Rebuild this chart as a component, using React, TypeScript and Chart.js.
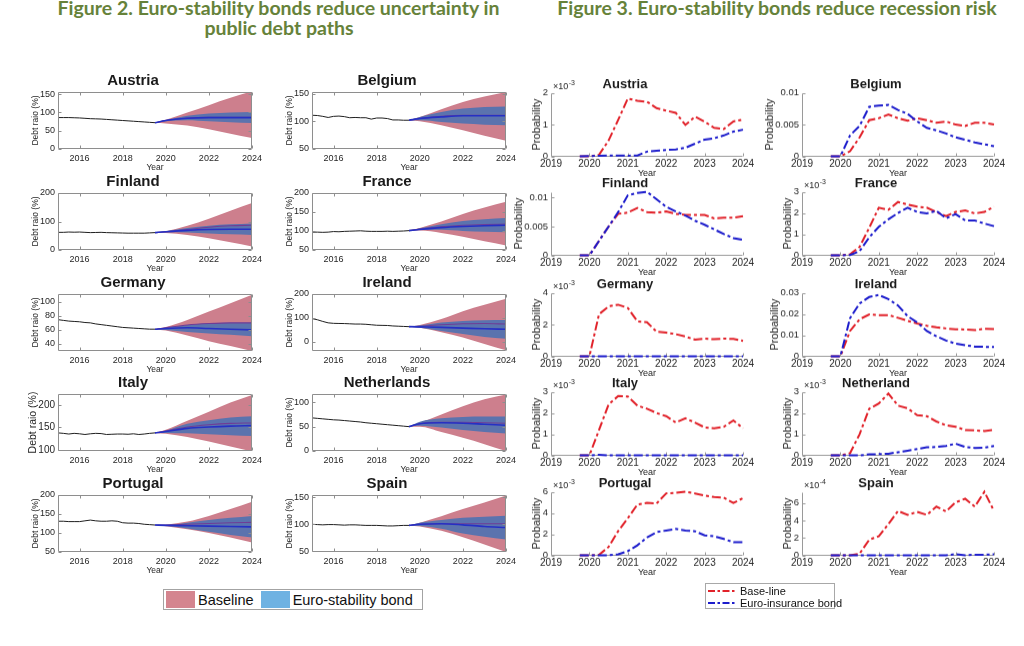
import React, { useEffect, useRef } from "react";
import { Chart, registerables } from "chart.js";

Chart.register(...registerables);

const FONT = "'Liberation Sans', Arial, Helvetica, sans-serif";
const TITLE_FONT = "Lato, 'Open Sans', sans-serif";
Chart.defaults.font.family = FONT;
Chart.defaults.color = "#262626";

// ================= Figure 2: debt ratio fan charts =================
const debtNames = ["Austria", "Belgium", "Finland", "France", "Germany", "Ireland", "Italy", "Netherlands", "Portugal", "Spain"];
const histYears = [2015, 2015.25, 2015.5, 2015.75, 2016, 2016.25, 2016.5, 2016.75, 2017, 2017.25, 2017.5, 2017.75, 2018, 2018.25, 2018.5, 2018.75, 2019, 2019.25, 2019.5];
const fanYears = [2019.5, 2020, 2021, 2022, 2023, 2024];
const debtXTicks = [2016, 2018, 2020, 2022, 2024];

// Austria
const atHist = [86, 86, 86, 85.5, 85, 84, 83, 82.5, 82, 81, 80, 79, 78, 77, 76, 75, 74, 73, 72];
const atBaseHi = [72, 80, 100, 120, 140, 158];
const atBaseLo = [72, 70, 64, 54, 42, 30];
const atBondHi = [72, 79, 91, 97, 100, 101];
const atBondLo = [72, 76, 79, 76, 73, 71];
const atBondMed = [72, 78, 84, 86, 86, 86];
const atBaseMed = [72, 78, 85, 87, 87, 87];
const atTicks = [0, 50, 100, 150];
const atRange = [0, 156];
// Belgium
const beHist = [111, 110.5, 109, 107, 109, 109.5, 108.5, 106.5, 107, 106.5, 106.5, 104, 106, 106, 105, 102.5, 102.5, 102, 102];
const beBaseHi = [102, 108, 122, 135, 145, 153];
const beBaseLo = [102, 100, 93, 84, 74, 65];
const beBondHi = [102, 108, 117, 123, 126, 127];
const beBondLo = [102, 102, 99, 96, 94, 93];
const beBondMed = [102, 105, 108, 110, 110, 110];
const beBaseMed = [102, 105, 109, 111, 111, 111];
const beTicks = [50, 100, 150];
const beRange = [50, 153];
// Finland
const fiHist = [62, 62, 63, 62.5, 63, 62, 61, 61.5, 62, 61, 60.5, 60, 59.5, 59, 59, 59, 59, 60, 61];
const fiBaseHi = [61, 66, 85, 110, 138, 165];
const fiBaseLo = [61, 60, 53, 41, 27, 12];
const fiBondHi = [61, 66, 77, 85, 90, 93];
const fiBondLo = [61, 62, 61, 58, 55, 53];
const fiBondMed = [61, 64, 69, 72, 73, 73];
const fiBaseMed = [61, 64, 72, 80, 85, 87];
const fiTicks = [0, 100, 200];
const fiRange = [0, 200];
// France
const frHist = [97, 97, 96.5, 97, 98.5, 98, 99, 99.5, 100, 100.5, 99.5, 99, 99, 99, 99.5, 99, 99.5, 100, 101];
const frBaseHi = [101, 108, 125, 145, 162, 177];
const frBaseLo = [101, 101, 95, 85, 73, 62];
const frBondHi = [101, 107, 118, 126, 131, 134];
const frBondLo = [101, 103, 103, 100, 98, 97];
const frBondMed = [101, 104, 109, 112, 114, 115];
const frBaseMed = [101, 105, 111, 115, 117, 118];
const frTicks = [50, 100, 150, 200];
const frRange = [50, 200];
// Germany
const deHist = [74.5, 73.5, 72.5, 72, 71.5, 70.5, 70, 68.5, 67.5, 66.5, 65.5, 64.5, 63.5, 63, 62.5, 62, 61.5, 61, 61];
const deBaseHi = [61, 64, 74, 86, 98, 110];
const deBaseLo = [61, 59, 52, 44, 37, 30];
const deBondHi = [61, 63, 67, 69, 70, 70];
const deBondLo = [61, 60, 57, 55, 53, 51];
const deBondMed = [61, 62, 63, 62, 61, 60];
const deBaseMed = [61, 63, 67, 69, 70, 70];
const deTicks = [40, 60, 80, 100];
const deRange = [30, 111];
// Ireland
const ieHist = [97, 92, 85, 79, 77, 76.5, 76, 75, 74, 74, 73, 71, 69, 68.5, 68, 66, 65, 64, 63];
const ieBaseHi = [63, 70, 95, 128, 155, 180];
const ieBaseLo = [63, 58, 40, 18, -10, -36];
const ieBondHi = [63, 68, 80, 87, 90, 91];
const ieBondLo = [63, 58, 45, 32, 20, 12];
const ieBondMed = [63, 62, 60, 57, 54, 52];
const ieBaseMed = [63, 65, 71, 75, 76, 74];
const ieTicks = [0, 100, 200];
const ieRange = [-39, 200];
// Italy
const itHist = [138, 137, 135.5, 137, 136, 134.5, 136, 137, 136.5, 134.5, 135, 135.5, 135.5, 135, 136, 134.5, 135.5, 137, 138];
const itBaseHi = [138, 145, 165, 185, 205, 222];
const itBaseLo = [138, 136, 129, 119, 108, 97];
const itBondHi = [138, 143, 158, 166, 172, 175];
const itBondLo = [138, 138, 137, 135, 133, 131];
const itBondMed = [138, 141, 148, 151, 153, 154];
const itBaseMed = [138, 142, 151, 156, 159, 160];
const itTicks = [100, 150, 200];
const itRange = [98, 224];
// Netherlands
const nlHist = [68, 67, 66, 65, 64, 63.5, 62.5, 61.5, 60.5, 59.5, 58, 57, 56, 55, 54, 53, 52, 51, 50];
const nlBaseHi = [50, 58, 75, 92, 106, 116];
const nlBaseLo = [50, 50, 39, 27, 14, 0];
const nlBondHi = [50, 60, 67, 70, 71, 71];
const nlBondLo = [50, 52, 48, 43, 39, 36];
const nlBondMed = [50, 56, 58, 57, 55, 53];
const nlBaseMed = [50, 56, 59, 59, 58, 57];
const nlTicks = [0, 50, 100];
const nlRange = [0, 117];
// Portugal
const ptHist = [131, 131, 130, 130, 130, 132, 134, 132, 131, 131, 132, 131, 127, 126, 126, 125, 123, 122, 121];
const ptBaseHi = [121, 122, 130, 145, 163, 182];
const ptBaseLo = [121, 118, 110, 100, 88, 75];
const ptBondHi = [121, 121, 127, 134, 140, 145];
const ptBondLo = [121, 119, 112, 103, 95, 88];
const ptBondMed = [121, 120, 119, 118, 117, 116];
const ptBaseMed = [121, 121, 123, 125, 127, 128];
const ptTicks = [50, 100, 150, 200];
const ptRange = [50, 200];
// Spain
const esHist = [100, 99.5, 99, 99.5, 99.5, 99, 98.5, 99, 99, 98.5, 98, 98, 98, 97.5, 97, 97, 97.5, 98, 98];
const esBaseHi = [98, 103, 115, 128, 140, 153];
const esBaseLo = [98, 96, 88, 76, 63, 49];
const esBondHi = [98, 103, 108, 112, 114, 116];
const esBondLo = [98, 97, 92, 83, 77, 72];
const esBondMed = [98, 100, 101, 99, 96, 94];
const esBaseMed = [98, 100, 101, 101, 101, 101];
const esTicks = [50, 100, 150];
const esRange = [49, 154];

// ================= Figure 3: recession probabilities =================
const recNames = ["Austria", "Belgium", "Finland", "France", "Germany", "Ireland", "Italy", "Netherland", "Portugal", "Spain"];
const qYears = [2019.75, 2020, 2020.25, 2020.5, 2020.75, 2021, 2021.25, 2021.5, 2021.75, 2022, 2022.25, 2022.5, 2022.75, 2023, 2023.25, 2023.5, 2023.75, 2024];
const recXTicks = [2019, 2020, 2021, 2022, 2023, 2024];

// values in displayed axis units (see exponent label per panel)
const atRecBase = [0, 0, 0.05, 0.5, 1.15, 1.82, 1.75, 1.72, 1.52, 1.44, 1.37, 0.99, 1.25, 1.09, 0.9, 0.86, 1.1, 1.16];
const atRecBond = [0, 0.01, 0.02, 0.03, 0.03, 0.02, 0.03, 0.15, 0.18, 0.2, 0.22, 0.27, 0.4, 0.53, 0.57, 0.66, 0.78, 0.84];
const beRecBase = [0, 0, 0.0008, 0.003, 0.0057, 0.006, 0.0066, 0.006, 0.0056, 0.006, 0.0057, 0.0053, 0.0055, 0.005, 0.0048, 0.0053, 0.0053, 0.005];
const beRecBond = [0, 0, 0.0033, 0.0048, 0.0078, 0.008, 0.0081, 0.0073, 0.0067, 0.0055, 0.0045, 0.0041, 0.0036, 0.003, 0.0026, 0.0022, 0.0019, 0.0016];
const fiRecBase = [0, 0, 0.0025, 0.005, 0.0072, 0.0074, 0.0082, 0.0075, 0.0074, 0.0076, 0.0072, 0.007, 0.007, 0.007, 0.0064, 0.0065, 0.0065, 0.0068];
const fiRecBond = [0, 0, 0.0025, 0.005, 0.0075, 0.0104, 0.0108, 0.011, 0.0097, 0.0084, 0.0076, 0.0069, 0.006, 0.0053, 0.0045, 0.0037, 0.003, 0.0027];
const frRecBase = [0, 0, 0.05, 0.4, 1.3, 2.25, 2.15, 2.52, 2.4, 2.3, 2.25, 2.05, 1.85, 2.05, 2.12, 1.98, 2.05, 2.3];
const frRecBond = [0, 0, 0.02, 0.2, 0.85, 1.35, 1.7, 2.0, 2.25, 2.05, 1.98, 2.1, 1.75, 1.95, 1.65, 1.65, 1.5, 1.38];
const deRecBase = [0, 0, 2.65, 3.15, 3.25, 3.05, 2.2, 2.15, 1.55, 1.5, 1.4, 1.25, 1.05, 1.12, 1.08, 1.12, 1.1, 0.98];
const deRecBond = [0, 0, 0, 0, 0, 0, 0, 0, 0, 0, 0, 0, 0, 0, 0, 0, 0, 0];
const ieRecBase = [0, 0, 0.012, 0.0175, 0.0198, 0.0195, 0.0195, 0.0182, 0.0168, 0.0155, 0.0145, 0.0137, 0.0132, 0.0128, 0.0127, 0.0124, 0.013, 0.0129];
const ieRecBond = [0, 0, 0.018, 0.025, 0.028, 0.029, 0.027, 0.024, 0.019, 0.016, 0.012, 0.0095, 0.0075, 0.006, 0.0053, 0.0046, 0.0045, 0.0044];
const itRecBase = [0, 0, 1.2, 2.4, 2.8, 2.78, 2.35, 2.2, 2.0, 1.85, 1.55, 1.75, 1.55, 1.32, 1.28, 1.35, 1.65, 1.28];
const itRecBond = [0, 0, 0.03, 0, 0, 0, 0, 0, 0, 0, 0, 0, 0, 0, 0, 0, 0, 0];
const nlRecBase = [0, 0, 0.1, 1.0, 2.2, 2.45, 2.92, 2.35, 2.22, 1.9, 1.85, 1.6, 1.42, 1.35, 1.2, 1.18, 1.15, 1.2];
const nlRecBond = [0, 0, 0, 0, 0.05, 0.06, 0.08, 0.15, 0.22, 0.3, 0.38, 0.4, 0.45, 0.55, 0.4, 0.35, 0.36, 0.45];
const ptRecBase = [0, 0, 0.05, 0.8, 2.3, 3.5, 4.8, 4.95, 4.9, 5.85, 5.9, 6.0, 5.85, 5.65, 5.5, 5.45, 4.95, 5.4];
const ptRecBond = [0, 0, 0, 0.02, 0.1, 0.4, 0.95, 1.7, 2.2, 2.35, 2.5, 2.35, 2.28, 1.9, 1.8, 1.55, 1.25, 1.25];
const esRecBase = [0, 0, 0, 0.2, 1.8, 2.2, 3.6, 5.1, 4.65, 5.0, 4.65, 5.6, 5.05, 6.1, 6.5, 5.6, 7.3, 5.1];
const esRecBond = [0, 0, 0, 0, 0, 0, 0, 0, 0, 0, 0, 0, 0, 0.15, 0.02, 0.08, 0.08, 0.12];

const recTicks = [
  [0, 1, 2], [0, 0.005, 0.01], [0, 0.005, 0.01], [0, 1, 2, 3], [0, 2, 4],
  [0, 0.01, 0.02, 0.03], [0, 1, 2, 3], [0, 1, 2, 3], [0, 2, 4, 6], [0, 2, 4, 6],
];
const recMax = [2, 0.01, 0.011, 3, 4, 0.03, 3, 3, 6, 7.3];
const recExp = ["-3", "", "", "-3", "-3", "", "-3", "-3", "-3", "-4"];

// ---------- texts ----------
const fig2Line1 = "Figure 2. Euro-stability bonds reduce uncertainty in";
const fig2Line2 = "public debt paths";
const fig3Title = "Figure 3. Euro-stability bonds reduce recession risk";
const legend2 = ["Baseline", "Euro-stability bond"];
const legend3 = ["Base-line", "Euro-insurance bond"];

// ---------- colours ----------
const BASE_FILL = "#cd7f8d";
const BOND_FILL = "#5b73ae";
const BOND_MED = "#2630c4";
const BASE_MED = "#6e3d96";
const REC_RED = "#e1222a";
const REC_BLUE = "#1d1dcc";

// ---------- helpers ----------
const measureCtx = document.createElement("canvas").getContext("2d") as CanvasRenderingContext2D;
function textWidth(t: string, font: string) {
  measureCtx.font = font;
  return measureCtx.measureText(t).width;
}
const titleSize = (20 * 443) / textWidth(fig2Line1, `bold 20px ${TITLE_FONT}`);

const xy = (xs: number[], ys: number[]) => xs.map((x, i) => ({ x, y: ys[i] }));

function drawAxes(chart: any, o: any) {
  const { ctx, chartArea: a, scales } = chart;
  const L = Math.round(a.left) + 0.5;
  const R = Math.round(a.right) - 0.5;
  const T = Math.round(a.top) + 0.5;
  const B = Math.round(a.bottom) - 0.5;
  ctx.save();
  ctx.strokeStyle = o.color;
  ctx.lineWidth = 1;
  ctx.setLineDash([]);
  ctx.beginPath();
  if (o.box) {
    ctx.moveTo(L, T);
    ctx.lineTo(R, T);
    ctx.lineTo(R, B);
    ctx.lineTo(L, B);
    ctx.closePath();
  } else {
    ctx.moveTo(L, T);
    ctx.lineTo(L, B);
    ctx.lineTo(R, B);
  }
  const tl = o.tickLen;
  for (const t of scales.x.ticks) {
    const px = Math.round(scales.x.getPixelForValue(t.value)) + 0.5;
    ctx.moveTo(px, B);
    ctx.lineTo(px, B - tl);
    if (o.box) {
      ctx.moveTo(px, T);
      ctx.lineTo(px, T + tl);
    }
  }
  for (const t of scales.y.ticks) {
    const py = Math.round(scales.y.getPixelForValue(t.value)) + 0.5;
    ctx.moveTo(L, py);
    ctx.lineTo(L + tl, py);
    if (o.box) {
      ctx.moveTo(R, py);
      ctx.lineTo(R - tl, py);
    }
  }
  ctx.stroke();
  ctx.restore();
}

const decorPlugin = {
  id: "decor",
  beforeDatasetsDraw(chart: any, _args: any, o: any) {
    if (!o || !o.enabled || !o.under) return;
    drawAxes(chart, o);
  },
  afterDraw(chart: any, _args: any, o: any) {
    if (!o || !o.enabled) return;
    if (!o.under) drawAxes(chart, o);
    if (o.exp) {
      const { ctx, chartArea: a } = chart;
      ctx.save();
      ctx.fillStyle = "#262626";
      ctx.textBaseline = "alphabetic";
      ctx.textAlign = "left";
      ctx.font = `9px ${FONT}`;
      const x0 = a.left + 2;
      const y0 = a.top - 4;
      ctx.fillText("×10", x0, y0);
      const w = ctx.measureText("×10").width;
      ctx.font = `7px ${FONT}`;
      ctx.fillText(o.exp, x0 + w + 0.5, y0 - 4);
      ctx.restore();
    }
  },
};

type DebtPanel = {
  name: string;
  hist: number[];
  baseHi: number[];
  baseLo: number[];
  bondHi: number[];
  bondLo: number[];
  bondMed: number[];
  baseMed: number[];
  ticks: number[];
  range: number[];
};

const debtPanels: DebtPanel[] = [
  { name: debtNames[0], hist: atHist, baseHi: atBaseHi, baseLo: atBaseLo, bondHi: atBondHi, bondLo: atBondLo, bondMed: atBondMed, baseMed: atBaseMed, ticks: atTicks, range: atRange },
  { name: debtNames[1], hist: beHist, baseHi: beBaseHi, baseLo: beBaseLo, bondHi: beBondHi, bondLo: beBondLo, bondMed: beBondMed, baseMed: beBaseMed, ticks: beTicks, range: beRange },
  { name: debtNames[2], hist: fiHist, baseHi: fiBaseHi, baseLo: fiBaseLo, bondHi: fiBondHi, bondLo: fiBondLo, bondMed: fiBondMed, baseMed: fiBaseMed, ticks: fiTicks, range: fiRange },
  { name: debtNames[3], hist: frHist, baseHi: frBaseHi, baseLo: frBaseLo, bondHi: frBondHi, bondLo: frBondLo, bondMed: frBondMed, baseMed: frBaseMed, ticks: frTicks, range: frRange },
  { name: debtNames[4], hist: deHist, baseHi: deBaseHi, baseLo: deBaseLo, bondHi: deBondHi, bondLo: deBondLo, bondMed: deBondMed, baseMed: deBaseMed, ticks: deTicks, range: deRange },
  { name: debtNames[5], hist: ieHist, baseHi: ieBaseHi, baseLo: ieBaseLo, bondHi: ieBondHi, bondLo: ieBondLo, bondMed: ieBondMed, baseMed: ieBaseMed, ticks: ieTicks, range: ieRange },
  { name: debtNames[6], hist: itHist, baseHi: itBaseHi, baseLo: itBaseLo, bondHi: itBondHi, bondLo: itBondLo, bondMed: itBondMed, baseMed: itBaseMed, ticks: itTicks, range: itRange },
  { name: debtNames[7], hist: nlHist, baseHi: nlBaseHi, baseLo: nlBaseLo, bondHi: nlBondHi, bondLo: nlBondLo, bondMed: nlBondMed, baseMed: nlBaseMed, ticks: nlTicks, range: nlRange },
  { name: debtNames[8], hist: ptHist, baseHi: ptBaseHi, baseLo: ptBaseLo, bondHi: ptBondHi, bondLo: ptBondLo, bondMed: ptBondMed, baseMed: ptBaseMed, ticks: ptTicks, range: ptRange },
  { name: debtNames[9], hist: esHist, baseHi: esBaseHi, baseLo: esBaseLo, bondHi: esBondHi, bondLo: esBondLo, bondMed: esBondMed, baseMed: esBaseMed, ticks: esTicks, range: esRange },
];

const recBase = [atRecBase, beRecBase, fiRecBase, frRecBase, deRecBase, ieRecBase, itRecBase, nlRecBase, ptRecBase, esRecBase];
const recBond = [atRecBond, beRecBond, fiRecBond, frRecBond, deRecBond, ieRecBond, itRecBond, nlRecBond, ptRecBond, esRecBond];

// ---------- layout ----------
const D_AXIS_W = 44;
const D_TITLE_H = 22;
const D_XAXIS_H = 24;
const D_PAD_R = 14;
const D_PLOT_LEFT = [58, 312];
const D_PLOT_TOP = [92, 193, 294, 394, 495];
const D_PLOT_W = 194;
const D_PLOT_H = 57;

const R_AXIS_W = 44;
const R_TITLE_H = 19.6;
const R_XAXIS_H = 24;
const R_PAD_R = 14;
const R_PLOT_LEFT = [551, 802];
const R_PLOT_TOP = [93, 192, 293, 392, 492];
const R_PLOT_W = 192;
const R_PLOT_H = 63;

function fanLine(ys: number[], color: string, width: number, order: number, extra: any = {}) {
  return {
    data: xy(fanYears, ys),
    borderColor: color,
    borderWidth: width,
    pointRadius: 0,
    cubicInterpolationMode: "monotone",
    fill: false,
    order,
    ...extra,
  };
}

function debtConfig(p: DebtPanel, big: boolean): any {
  const tickFont = big ? 10 : 9;
  const yTitleFont = big ? 10.5 : 8.5;
  const tickPad = 3;
  const maxW = Math.max(...p.ticks.map((t) => textWidth(String(t), `${tickFont}px ${FONT}`)));
  const padTop = D_AXIS_W - tickPad - maxW - yTitleFont / 2 - (yTitleFont * 1.2) / 2;
  const clear = "rgba(0,0,0,0)";
  return {
    type: "line",
    data: {
      datasets: [
        { data: xy(histYears, p.hist), borderColor: "#1e1e1e", borderWidth: 1, pointRadius: 0, fill: false, order: 1 },
        fanLine(p.bondMed, BOND_MED, 1.6, 2),
        fanLine(p.baseMed, BASE_MED, 1.1, 3),
        fanLine(p.bondLo, clear, 0, 4),
        fanLine(p.bondHi, clear, 0, 4, { fill: 3, backgroundColor: BOND_FILL }),
        fanLine(p.baseLo, clear, 0, 5),
        fanLine(p.baseHi, clear, 0, 5, { fill: 5, backgroundColor: BASE_FILL }),
      ],
    },
    plugins: [decorPlugin],
    options: {
      animation: false,
      responsive: true,
      maintainAspectRatio: false,
      events: [],
      layout: { padding: { left: 0, right: D_PAD_R, top: 0, bottom: 0 } },
      plugins: {
        legend: { display: false },
        tooltip: { enabled: false },
        title: {
          display: true,
          text: p.name,
          color: "#1a1a1a",
          font: { size: 15, weight: "bold", lineHeight: 1.2 },
          padding: { top: 2, bottom: 2 },
        },
        decor: { enabled: true, box: true, under: false, color: "#8e8e8e", tickLen: 3 },
      },
      scales: {
        x: {
          type: "linear",
          min: 2015,
          max: 2024,
          afterBuildTicks: (s: any) => {
            s.ticks = debtXTicks.map((v) => ({ value: v }));
          },
          afterFit: (s: any) => {
            s.height = D_XAXIS_H;
          },
          grid: { display: false, drawTicks: false },
          border: { display: false },
          ticks: { font: { size: 9 }, padding: 4, maxRotation: 0, minRotation: 0, autoSkip: false, color: "#262626", callback: (v: any) => String(v) },
          title: { display: true, text: "Year", font: { size: 8.5, lineHeight: 1.2 }, color: "#262626", padding: { top: 0, bottom: 0 } },
        },
        y: {
          type: "linear",
          min: p.range[0],
          max: p.range[1],
          afterBuildTicks: (s: any) => {
            s.ticks = p.ticks.map((v) => ({ value: v }));
          },
          afterFit: (s: any) => {
            s.width = D_AXIS_W;
          },
          grid: { display: false, drawTicks: false },
          border: { display: false },
          ticks: { font: { size: tickFont }, padding: tickPad, color: "#262626", autoSkip: false, callback: (v: any) => String(v) },
          title: { display: true, text: "Debt raio (%)", font: { size: yTitleFont, lineHeight: 1.2 }, color: "#262626", padding: { top: padTop, bottom: 0 } },
        },
      },
    },
  };
}

function recConfig(i: number): any {
  const ticks = recTicks[i];
  const tickFont = 9.5;
  const yTitleFont = 11;
  const tickPad = 3;
  const maxW = Math.max(...ticks.map((t) => textWidth(String(t), `${tickFont}px ${FONT}`)));
  const padTop = R_AXIS_W - tickPad - maxW - yTitleFont / 2 - (yTitleFont * 1.2) / 2;
  const dash = [9, 3, 3, 3];
  const line = (ys: number[], color: string) => ({
    data: xy(qYears, ys),
    borderColor: color,
    borderWidth: 2,
    borderDash: dash,
    borderCapStyle: "butt",
    pointRadius: 0,
    fill: false,
    tension: 0,
    clip: 4,
  });
  return {
    type: "line",
    data: { datasets: [line(recBond[i], REC_BLUE), line(recBase[i], REC_RED)] },
    plugins: [decorPlugin],
    options: {
      animation: false,
      responsive: true,
      maintainAspectRatio: false,
      events: [],
      layout: { padding: { left: 0, right: R_PAD_R, top: 0, bottom: 0 } },
      plugins: {
        legend: { display: false },
        tooltip: { enabled: false },
        title: {
          display: true,
          text: recNames[i],
          color: "#1a1a1a",
          font: { size: 13, weight: "bold", lineHeight: 1.2 },
          padding: { top: 4, bottom: 0 },
        },
        decor: { enabled: true, box: false, under: true, color: "#9a9a9a", tickLen: 3, exp: recExp[i] },
      },
      scales: {
        x: {
          type: "linear",
          min: 2019,
          max: 2024,
          afterBuildTicks: (s: any) => {
            s.ticks = recXTicks.map((v) => ({ value: v }));
          },
          afterFit: (s: any) => {
            s.height = R_XAXIS_H;
          },
          grid: { display: false, drawTicks: false },
          border: { display: false },
          ticks: { font: { size: 10 }, padding: 2, maxRotation: 0, minRotation: 0, autoSkip: false, color: "#262626", callback: (v: any) => String(v) },
          title: { display: true, text: "Year", font: { size: 9, lineHeight: 1.2 }, color: "#262626", padding: { top: 0, bottom: 1.5 } },
        },
        y: {
          type: "linear",
          min: 0,
          max: recMax[i],
          afterBuildTicks: (s: any) => {
            s.ticks = ticks.map((v) => ({ value: v }));
          },
          afterFit: (s: any) => {
            s.width = R_AXIS_W;
          },
          grid: { display: false, drawTicks: false },
          border: { display: false },
          ticks: { font: { size: tickFont }, padding: tickPad, color: "#262626", autoSkip: false, callback: (v: any) => String(v) },
          title: { display: true, text: "Probability", font: { size: yTitleFont, lineHeight: 1.2 }, color: "#262626", padding: { top: padTop, bottom: 0 } },
        },
      },
    },
  };
}

function ChartBox(props: { left: number; top: number; width: number; height: number; build: () => any }) {
  const ref = useRef<HTMLCanvasElement | null>(null);
  useEffect(() => {
    if (!ref.current) return;
    const chart = new Chart(ref.current, props.build());
    return () => chart.destroy();
  }, []);
  return (
    <div style={{ position: "absolute", left: props.left, top: props.top, width: props.width, height: props.height }}>
      <canvas ref={ref} />
    </div>
  );
}

function TitleLine({ text, cx, baseline }: { text: string; cx: number; baseline: number }) {
  return (
    <div
      style={{
        position: "absolute",
        left: cx - 300,
        width: 600,
        top: baseline - titleSize * 0.987,
        textAlign: "center",
        fontFamily: TITLE_FONT,
        fontWeight: 700,
        fontSize: titleSize,
        lineHeight: 1.2,
        color: "#66823a",
        whiteSpace: "nowrap",
      }}
    >
      {text}
    </div>
  );
}

function DashSample({ color }: { color: string }) {
  return (
    <svg width={29} height={6} style={{ display: "block" }}>
      <line x1={0} y1={3} x2={29} y2={3} stroke={color} strokeWidth={2} strokeDasharray="7 2.5 2.5 2.5" />
    </svg>
  );
}

export default function App() {
  return (
    <div style={{ position: "absolute", left: 0, top: 0, width: 1024, height: 646, background: "#ffffff", overflow: "hidden", fontFamily: FONT }}>
      <TitleLine text={fig2Line1} cx={278.5} baseline={15.7} />
      <TitleLine text={fig2Line2} cx={279} baseline={35} />
      <TitleLine text={fig3Title} cx={777} baseline={15.7} />

      {debtPanels.map((p, i) => {
        const col = i % 2;
        const row = Math.floor(i / 2);
        return (
          <ChartBox
            key={"d" + i}
            left={D_PLOT_LEFT[col] - D_AXIS_W}
            top={D_PLOT_TOP[row] - D_TITLE_H}
            width={D_AXIS_W + D_PLOT_W + D_PAD_R}
            height={D_TITLE_H + D_PLOT_H + D_XAXIS_H}
            build={() => debtConfig(p, i === 6)}
          />
        );
      })}

      {recNames.map((n, i) => {
        const col = i % 2;
        const row = Math.floor(i / 2);
        return (
          <ChartBox
            key={"r" + i}
            left={R_PLOT_LEFT[col] - R_AXIS_W}
            top={R_PLOT_TOP[row] - R_TITLE_H}
            width={R_AXIS_W + R_PLOT_W + R_PAD_R}
            height={R_TITLE_H + R_PLOT_H + R_XAXIS_H}
            build={() => recConfig(i)}
          />
        );
      })}

      {/* Figure 2 legend */}
      <div
        style={{
          position: "absolute",
          left: 163,
          top: 589,
          width: 260,
          height: 21,
          boxSizing: "border-box",
          border: "1px solid #a3a3a3",
          display: "flex",
          alignItems: "center",
          fontSize: 14.5,
          color: "#111",
          whiteSpace: "nowrap",
        }}
      >
        <div style={{ width: 29, height: 17, marginLeft: 2, background: "#d4858f" }} />
        <span style={{ marginLeft: 3 }}>{legend2[0]}</span>
        <div style={{ width: 29, height: 17, marginLeft: 7, background: "#6fb2e2" }} />
        <span style={{ marginLeft: 3 }}>{legend2[1]}</span>
      </div>

      {/* Figure 3 legend */}
      <div
        style={{
          position: "absolute",
          left: 705,
          top: 583,
          width: 130,
          height: 26,
          boxSizing: "border-box",
          border: "1px solid #a8a8a8",
          fontSize: 11,
          color: "#111",
          whiteSpace: "nowrap",
          paddingTop: 1,
        }}
      >
        <div style={{ display: "flex", alignItems: "center", height: 12 }}>
          <div style={{ marginLeft: 2 }}>
            <DashSample color={REC_RED} />
          </div>
          <span style={{ marginLeft: 3 }}>{legend3[0]}</span>
        </div>
        <div style={{ display: "flex", alignItems: "center", height: 12 }}>
          <div style={{ marginLeft: 2 }}>
            <DashSample color={REC_BLUE} />
          </div>
          <span style={{ marginLeft: 3 }}>{legend3[1]}</span>
        </div>
      </div>
    </div>
  );
}
